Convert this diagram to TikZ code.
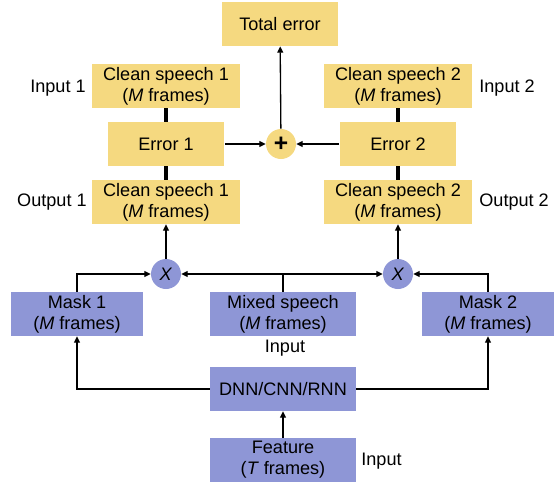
\documentclass[tikz,border=0pt]{standalone}
\usepackage{fontspec}
\setmainfont{Liberation Sans}
\usepackage{xcolor}
\usetikzlibrary{arrows.meta}

\definecolor{boxyellow}{RGB}{245,217,128}
\definecolor{boxpurple}{RGB}{142,150,214}

\begin{document}
\begin{tikzpicture}[x=0.02cm,y=-0.02cm,
      font=\fontsize{10.3}{12}\selectfont,
      ybox/.style={fill=boxyellow,minimum height=0.88cm,align=center,inner sep=0pt},
      pbox/.style={fill=boxpurple,minimum height=0.88cm,align=center,inner sep=0pt},
      op/.style={circle,minimum size=0.6cm,inner sep=0pt},
      lbl/.style={inner sep=0pt},
      arr/.style={line width=0.75pt,-{Triangle[length=3.6pt,width=3.4pt]}},
      link/.style={line width=0.75pt},
      thick link/.style={line width=2.1pt}]
   \useasboundingbox (0,0) rectangle (554,484);

   \node[ybox,minimum width=2.32cm] (total) at (280,24) {Total error};
   \node[ybox,minimum width=2.96cm] (clean1in) at (166,86) {Clean speech 1\\(\textit{M} frames)};
   \node[ybox,minimum width=2.96cm] (clean2in) at (398,86) {Clean speech 2\\(\textit{M} frames)};
   \node[ybox,minimum width=2.34cm] (err1) at (166,144) {Error 1};
   \node[ybox,minimum width=2.34cm] (err2) at (398,144) {Error 2};
   \node[op,fill=boxyellow] (sum) at (281,144) {\fontsize{14}{14}\selectfont\textbf{+}};
   \node[ybox,minimum width=2.96cm] (clean1out) at (166,202) {Clean speech 1\\(\textit{M} frames)};
   \node[ybox,minimum width=2.96cm] (clean2out) at (398,202) {Clean speech 2\\(\textit{M} frames)};

   \node[op,fill=boxpurple] (mul1) at (166,274) {\textit{X}};
   \node[op,fill=boxpurple] (mul2) at (398,274) {\textit{X}};
   \node[pbox,minimum width=2.66cm] (mask1) at (77,314) {Mask 1\\(\textit{M} frames)};
   \node[pbox,minimum width=2.92cm] (mixed) at (283,314) {Mixed speech\\(\textit{M} frames)};
   \node[pbox,minimum width=2.66cm] (mask2) at (488,314) {Mask 2\\(\textit{M} frames)};
   \node[pbox,minimum width=2.92cm] (dnn) at (283,389) {DNN/CNN/RNN};
   \node[pbox,minimum width=2.92cm] (feat) at (283,460) {Feature\\(\textit{T} frames)};

   \node[lbl,anchor=east] (in1) at (86,88) {Input 1};
   \node[lbl,anchor=west] (in2) at (479,88) {Input 2};
   \node[lbl,anchor=east] (out1) at (87,202) {Output 1};
   \node[lbl,anchor=west] (out2) at (479,202) {Output 2};
   \node[lbl] (inmix) at (285,348) {Input};
   \node[lbl,anchor=west] (infeat) at (361,461) {Input};

   \draw[thick link] (clean1in) -- (err1);
   \draw[thick link] (err1) -- (clean1out);
   \draw[thick link] (clean2in) -- (err2);
   \draw[thick link] (err2) -- (clean2out);
   \draw[arr] (err1) -- (sum);
   \draw[arr] (err2) -- (sum);
   \draw[arr] (sum) -- (total);
   \draw[arr] (mul1) -- (clean1out);
   \draw[arr] (mul2) -- (clean2out);

   \coordinate (split) at (mixed.north |- mul1);
   \draw[link] (mixed.north) -- (split);
   \draw[arr] (split) -- (mul1);
   \draw[arr] (split) -- (mul2);
   \draw[arr] (mask1.north) |- (mul1);
   \draw[arr] (mask2.north) |- (mul2);
   \draw[arr] (dnn.west) -| (mask1.south);
   \draw[arr] (dnn.east) -| (mask2.south);
   \draw[arr] (feat) -- (dnn);
\end{tikzpicture}
\end{document}
